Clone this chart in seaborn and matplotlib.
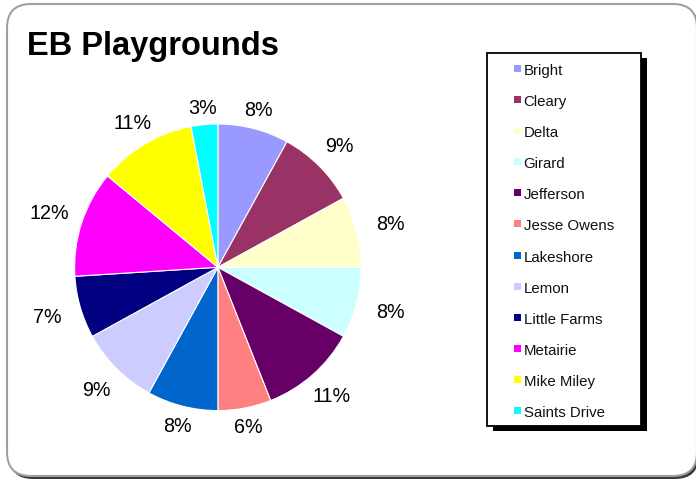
import matplotlib
matplotlib.use("Agg")
import matplotlib.pyplot as plt
from matplotlib.patches import FancyBboxPatch, Rectangle
from matplotlib.transforms import Affine2D
import seaborn as sns
import numpy as np

# Playground share data
playgrounds = ["Bright", "Cleary", "Delta", "Girard", "Jefferson", "Jesse Owens",
               "Lakeshore", "Lemon", "Little Farms", "Metairie", "Mike Miley",
               "Saints Drive"]
shares = [8, 9, 8, 8, 11, 6, 8, 9, 7, 12, 11, 3]
slice_colors = ["#9999FF", "#993366", "#FFFFCC", "#CCFFFF", "#660066", "#FF8080",
                "#0066CC", "#CCCCFF", "#000080", "#FF00FF", "#FFFF00", "#00FFFF"]
title_text = "EB Playgrounds"

sns.set_theme(style="white")
plt.rcParams["font.family"] = ["Liberation Sans", "DejaVu Sans"]

W, H = 696, 481
fig = plt.figure(figsize=(W / 100, H / 100), dpi=100)
fig.patch.set_facecolor("white")

# pixel transform (origin top-left) for frame decorations
px = Affine2D().scale(1 / 100, -1 / 100).translate(0, H / 100) + fig.dpi_scale_trans

# outer rounded frame with a dark drop shadow
shadow = FancyBboxPatch((9, 7), 690, 473, boxstyle="round,pad=0,rounding_size=24",
                        transform=px, facecolor="#3a3a3a", edgecolor="none",
                        zorder=0)
frame = FancyBboxPatch((7, 5), 690, 472, boxstyle="round,pad=0,rounding_size=24",
                       transform=px, facecolor="white", edgecolor="#a0a0a0",
                       linewidth=1.5, zorder=1)
fig.patches.extend([shadow, frame])

fig.text(27 / W, 1 - 54.5 / H, title_text, fontsize=23.5, fontweight="bold",
         ha="left", va="baseline", color="black", zorder=5)

# pie axes: radius 1 data unit == ~143 px
cx, cy, r_px = 217.9, 268.3, 143.3
a = 1.4
S = 2 * a * r_px
ax = fig.add_axes([(cx - S / 2) / W, (H - cy - S / 2) / H, S / W, S / H], zorder=3)
ax.set_facecolor("none")

wedges, texts, autotexts = ax.pie(
    shares, colors=sns.color_palette(slice_colors), startangle=90,
    counterclock=False, autopct="%1.0f%%", pctdistance=1.165,
    wedgeprops=dict(edgecolor="white", linewidth=0.8),
    textprops=dict(fontsize=14.2, color="black"))

# push labels out further on the sides, where the text is wider than tall
for w, t in zip(wedges, autotexts):
    mid = np.deg2rad((w.theta1 + w.theta2) / 2)
    dist = 1 + (15 + 20 * abs(np.cos(mid))) / r_px
    t.set_position((dist * np.cos(mid), dist * np.sin(mid)))
    t.set_ha("center")
    t.set_va("center")
ax.set_xlim(-a, a)
ax.set_ylim(-a, a)
ax.set_aspect("equal")
ax.axis("off")

# legend box with black shadow
lx0, ly0, lx1, ly1 = 487, 54, 641, 427
fig.patches.append(Rectangle((lx0 + 6, ly0 + 5), lx1 - lx0, ly1 - ly0, transform=px,
                             facecolor="black", edgecolor="none", zorder=6))
fig.patches.append(Rectangle((lx0, ly0), lx1 - lx0, ly1 - ly0, transform=px,
                             facecolor="white", edgecolor="black", linewidth=1.3,
                             zorder=7))
row0, step = 69.5, (411 - 69) / 11
for i, (name, col) in enumerate(zip(playgrounds, slice_colors)):
    yc = row0 + i * step
    fig.patches.append(Rectangle((513.5, yc - 3.5), 7, 7, transform=px,
                                 facecolor=col, edgecolor="none", zorder=8))
    fig.text(523.5 / W, 1 - yc / H, name, fontsize=10.8, ha="left",
             va="center_baseline", color="#111111", zorder=9)

fig.savefig("out.png", dpi=100, facecolor="white")
